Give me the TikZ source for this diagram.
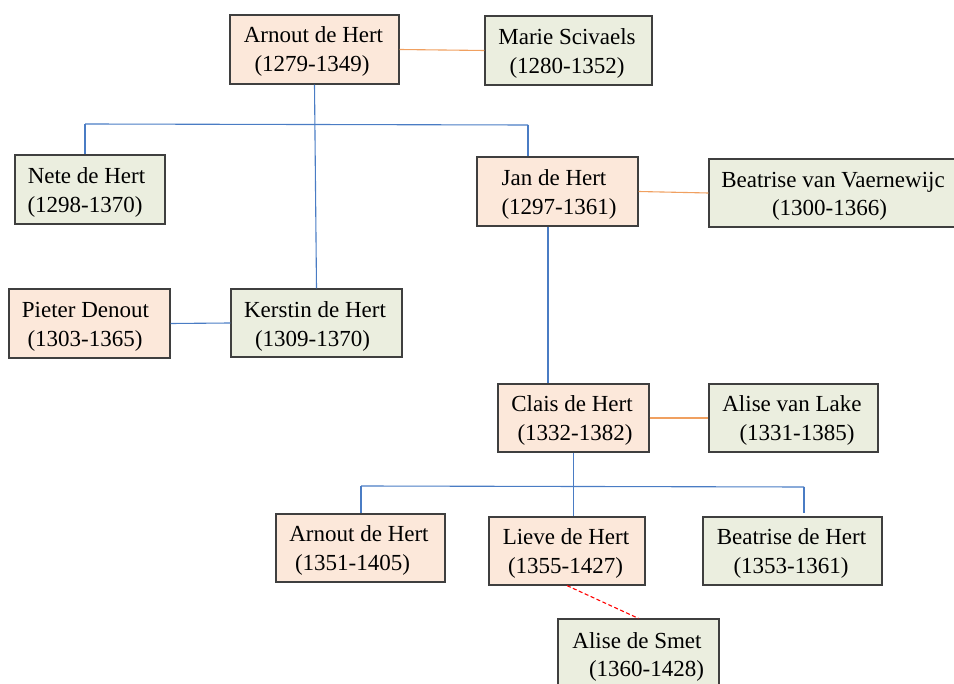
\documentclass[tikz,border=0pt]{standalone}
\usepackage{fontspec}
\setmainfont{Liberation Serif}
\definecolor{peach}{HTML}{FCE8DA}
\definecolor{sage}{HTML}{EBEEDF}
\definecolor{frame}{HTML}{3F3F3F}
\definecolor{blueline}{HTML}{4A7CC4}
\definecolor{orangeline}{HTML}{F0A060}
\definecolor{redline}{HTML}{FF0000}
\tikzset{
  box/.style={draw=frame, line width=1.2pt, rectangle, inner sep=0pt},
  pbox/.style={box, fill=peach},
  gbox/.style={box, fill=sage},
  txt/.style={anchor=base, inner sep=0pt, font=\fontsize{23}{29}\selectfont},
  kin/.style={draw=blueline, line width=1.1pt},
  wed/.style={draw=orangeline, line width=1.1pt},
  desc/.style={draw=redline, line width=1.1pt, dash pattern=on 4pt off 2.5pt},
}
\begin{document}
\begin{tikzpicture}[x=1pt,y=-1pt]
\useasboundingbox (0,0) rectangle (954,684);
\clip (0,0) rectangle (954,684);
% boxes
\node[pbox, minimum width=169pt, minimum height=69pt] (arn) at (314.5,49.5) {};
\node[gbox, minimum width=167pt, minimum height=69pt] (mar) at (568.5,50.5) {};
\node[gbox, minimum width=150pt, minimum height=69pt] (net) at (90,189.5) {};
\node[pbox, minimum width=161pt, minimum height=69pt] (jan) at (557.5,191.5) {};
\node[gbox, minimum width=248pt, minimum height=68pt] (bvv) at (833,193) {};
\node[pbox, minimum width=161pt, minimum height=69pt] (pie) at (89.5,323.5) {};
\node[gbox, minimum width=171pt, minimum height=68pt] (ker) at (316.5,323) {};
\node[pbox, minimum width=151pt, minimum height=68pt] (cla) at (573.5,418) {};
\node[gbox, minimum width=169pt, minimum height=68pt] (avl) at (793.5,418) {};
\node[pbox, minimum width=169pt, minimum height=68pt] (ar2) at (360.5,548) {};
\node[pbox, minimum width=156pt, minimum height=68pt] (lie) at (567,551) {};
\node[gbox, minimum width=179pt, minimum height=68pt] (bdh) at (792.5,551) {};
\node[gbox, minimum width=161pt, minimum height=69pt] (ads) at (638.5,653.5) {};
% texts
\node[txt] (arn1) at (313.5,43) {Arnout de Hert};
\node[txt] (arn2) at (312,71.5) {(1279-1349)};
\node[txt] (mar1) at (567,45) {Marie Scivaels};
\node[txt] (mar2) at (567,73.5) {(1280-1352)};
\node[txt] (net1) at (86.5,184) {Nete de Hert};
\node[txt] (net2) at (85,212.5) {(1298-1370)};
\node[txt] (jan1) at (554,186) {Jan de Hert};
\node[txt] (jan2) at (559,214.5) {(1297-1361)};
\node[txt] (bvv1) at (833,187.5) {Beatrise van Vaernewijc};
\node[txt] (bvv2) at (829.5,216) {(1300-1366)};
\node[txt] (pie1) at (85.5,318) {Pieter Denout};
\node[txt] (pie2) at (85,346.5) {(1303-1365)};
\node[txt] (ker1) at (315,318) {Kerstin de Hert};
\node[txt] (ker2) at (312.5,346.5) {(1309-1370)};
\node[txt] (cla1) at (572,412) {Clais de Hert};
\node[txt] (cla2) at (575,440.5) {(1332-1382)};
\node[txt] (avl1) at (792,412) {Alise van Lake};
\node[txt] (avl2) at (797,440.5) {(1331-1385)};
\node[txt] (ar21) at (359,542) {Arnout de Hert};
\node[txt] (ar22) at (352.5,570.5) {(1351-1405)};
\node[txt] (lie1) at (566,545) {Lieve de Hert};
\node[txt] (lie2) at (565.5,573.5) {(1355-1427)};
\node[txt] (bdh1) at (791.5,545) {Beatrise de Hert};
\node[txt] (bdh2) at (791,573.5) {(1353-1361)};
\node[txt] (ads1) at (637,648) {Alise de Smet};
\node[txt] (ads2) at (646.5,676.5) {(1360-1428)};
% junction points
\coordinate (nl) at (85,124);
\coordinate (nr) at (528,125);
\coordinate (jd) at (548,227);
\coordinate (cl) at (361,486);
\coordinate (cr) at (804,487);
% marriages
\draw[wed] (arn.east) -- (mar.west);
\draw[wed] (jan.east) -- (bvv.west);
\draw[wed] (cla.east) -- (avl.west);
\draw[kin] (pie.east) -- (ker.west);
% descent
\draw[kin] (arn.south) -- (ker.north);
\draw[kin] (nl) -- (nr);
\draw[kin] (nl) -- (nl |- net.north);
\draw[kin] (nr) -- (nr |- jan.north);
\draw[kin] (jd |- jan.south) -- (jd |- cla.north);
\draw[kin] (cla.south) -- (cla.south |- lie.north);
\draw[kin] (cl) -- (cr);
\draw[kin] (cl) -- (cl |- ar2.north);
\draw[kin] (cr) -- ([yshift=3pt]cr |- bdh.north);
\draw[desc] (lie.south) -- (ads.north);
\end{tikzpicture}
\end{document}
